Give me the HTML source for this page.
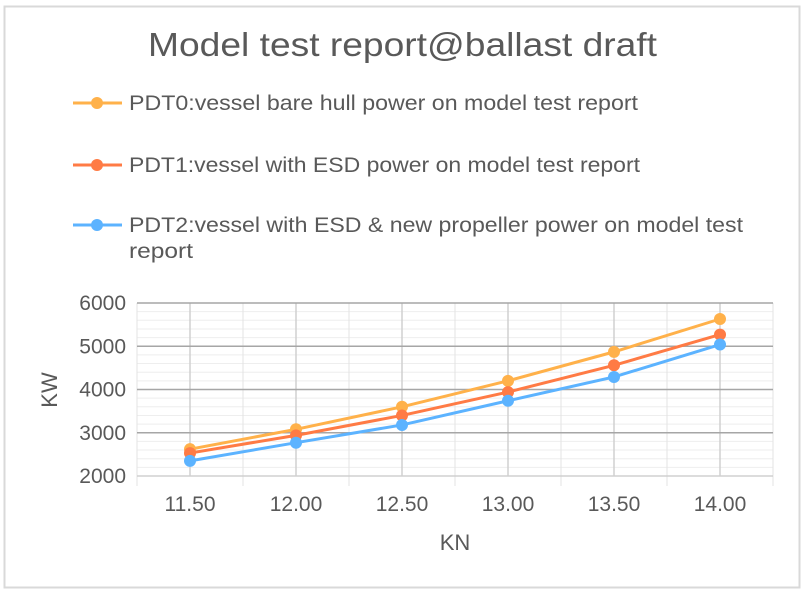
<!DOCTYPE html>
<html><head><meta charset="utf-8"><style>
body{margin:0;background:#fff;width:807px;height:595px;overflow:hidden;font-family:"Liberation Sans",sans-serif}
</style></head><body>
<svg id="chart" width="807" height="595" xmlns="http://www.w3.org/2000/svg" font-family="Liberation Sans, sans-serif">
<rect x="4.5" y="6.5" width="795" height="581" fill="#fff" stroke="#d9d9d9" stroke-width="2"/>
<text x="148" y="56" textLength="509" lengthAdjust="spacingAndGlyphs" font-size="33" fill="#595959">Model test report@ballast draft</text>
<g id="legend"></g>
<g id="grid"></g>
<g id="axes"></g>
<g id="series"></g>
<text transform="translate(57,390) rotate(-90)" text-anchor="middle" font-size="22" fill="#595959">KW</text>
<text x="455" y="550" text-anchor="middle" font-size="22" fill="#595959">KN</text>
</svg>
<script>
const categories=["11.50","12.00","12.50","13.00","13.50","14.00"];
const pdt0=[2620,3080,3600,4200,4870,5630];
const pdt1=[2530,2940,3400,3940,4560,5270];
const pdt2=[2350,2770,3180,3740,4290,5040];
const yTicks=[2000,3000,4000,5000,6000];
const seriesNames=["PDT0:vessel bare hull power on model test report","PDT1:vessel with ESD power on model test report","PDT2:vessel with ESD & new propeller power on model test report"];
const NS="http://www.w3.org/2000/svg";
const X0=137,X1=773,Y0=476,Y1=303,YMIN=2000,YMAX=6000;
const band=(X1-X0)/categories.length;
function xs(i){return X0+band*(i+0.5);}
function ys(v){return Y0-(v-YMIN)/(YMAX-YMIN)*(Y0-Y1);}
function mk(tag,attrs,parent){const e=document.createElementNS(NS,tag);for(const k in attrs)e.setAttribute(k,attrs[k]);parent.appendChild(e);return e;}
const grid=document.getElementById('grid'),axes=document.getElementById('axes'),ser=document.getElementById('series'),leg=document.getElementById('legend');
for(let v=YMIN+200;v<YMAX;v+=200){if(v%1000===0)continue;const l=mk('line',{x1:X0,x2:X1,y1:ys(v),y2:ys(v),stroke:'#eeeeee','stroke-width':1},grid);

}
for(let i=0;i<=categories.length;i++){const x=X0+band*i;const l=mk('line',{x1:x,x2:x,y1:Y1,y2:Y0+10,stroke:'#e3e3e3','stroke-width':1},grid);

}
categories.forEach((c,i)=>{const l=mk('line',{x1:xs(i),x2:xs(i),y1:Y1,y2:Y0,stroke:'#d0d0d0','stroke-width':1.5},grid);


const t=mk('text',{x:xs(i),y:511,'text-anchor':'middle','font-size':21,fill:'#595959'},axes);t.textContent=c;

});
yTicks.forEach(v=>{const l=mk('line',{x1:X0,x2:X1,y1:ys(v),y2:ys(v),stroke:v===YMIN?'#d0d0d0':'#a6a6a6','stroke-width':1.5},grid);


const t=mk('text',{x:126,y:ys(v)+7,'text-anchor':'end','font-size':21,fill:'#595959'},axes);t.textContent=v;

});
const colors=["#ffb14a","#ff7b45","#5cb3ff"];
const data=[pdt0,pdt1,pdt2];
data.forEach((arr,s)=>{const pts=arr.map((v,i)=>xs(i)+','+ys(v)).join(' ');
const pl=mk('polyline',{points:pts,fill:'none',stroke:colors[s],'stroke-width':3},ser);


arr.forEach((v,i)=>{const c=mk('circle',{cx:xs(i),cy:ys(v),r:6,fill:colors[s]},ser);

});});
const legY=[103,165,225];
const legLen=[509,511,614];
seriesNames.forEach((n,s)=>{const y=legY[s];
const g=mk('g',{},leg);


mk('line',{x1:73,x2:122,y1:y,y2:y,stroke:colors[s],'stroke-width':3},g);
mk('circle',{cx:97,cy:y,r:6,fill:colors[s]},g);
const t=mk('text',{x:129,y:y+7,'font-size':21,fill:'#595959',textLength:legLen[s],lengthAdjust:'spacingAndGlyphs'},g);
if(s===2){t.textContent="PDT2:vessel with ESD & new propeller power on model test";
const t2=mk('text',{x:129,y:y+33,'font-size':21,fill:'#595959',textLength:64,lengthAdjust:'spacingAndGlyphs'},g);t2.textContent="report";}
else t.textContent=n;});
</script>
</body></html>
